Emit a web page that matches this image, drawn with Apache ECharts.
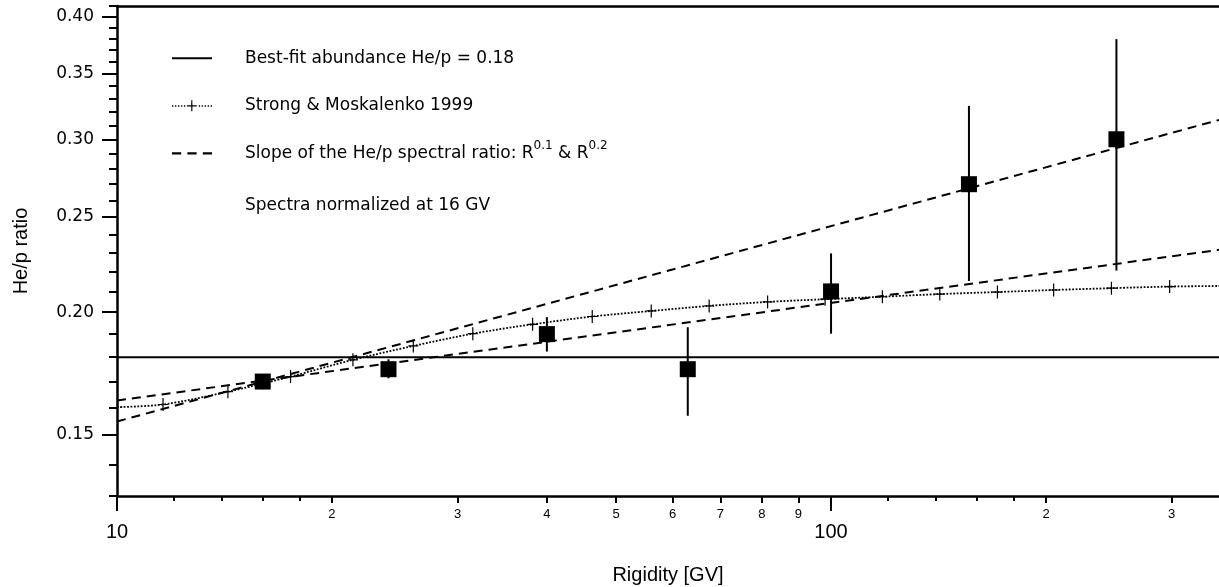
<!DOCTYPE html>
<html>
<head>
<meta charset="utf-8">
<script src="https://cdn.jsdelivr.net/npm/echarts@6/dist/echarts.min.js"></script>
<style>
html,body{margin:0;padding:0;background:#fff;}
#chart{width:1219px;height:587px;}
</style>
</head>
<body>
<div id="chart"></div>
<script>
// ---------- data ----------
const xTitle = 'Rigidity [GV]';
const yTitle = 'He/p ratio';
const xMin = 10, xMax = 349.4;
const yMin = 0.13, yMax = 0.41;

// tick values
const xMajorTicks = [10, 100];
const xMinorLabeled = [20, 30, 40, 50, 60, 70, 80, 90, 200, 300];
const xMinorTicks = [12, 14, 16, 18, 120, 140, 160, 180];
const yMajorTicks = [0.15, 0.20, 0.25, 0.30, 0.35, 0.40];
const yMinorTicks = [0.13, 0.14, 0.16, 0.17, 0.18, 0.19, 0.21, 0.22, 0.23, 0.24, 0.26, 0.27, 0.28, 0.29, 0.31, 0.32, 0.33, 0.34, 0.36, 0.37, 0.38, 0.39, 0.41];

// measured He/p ratio points with error bars
const dataR     = [16, 24, 40, 63, 100, 156, 251];
const dataRatio = [0.170, 0.175, 0.190, 0.175, 0.210, 0.270, 0.300];
const errLow    = [0.1670, 0.1713, 0.1824, 0.1569, 0.1902, 0.2152, 0.2205];
const errHigh   = [0.1730, 0.1791, 0.1977, 0.1931, 0.2296, 0.3244, 0.3794];

// best-fit abundance
const bestFitName = 'Best-fit abundance He/p = 0.18';
const bestFit = 0.18;

// Strong & Moskalenko 1999 model (crosses) and curve ends
const smName = 'Strong & Moskalenko 1999';
const smR     = [11.6, 14.3, 17.5, 21.4, 26.0, 31.5, 38.2, 46.3, 56.0, 67.5, 81.5, 98.1, 118, 142, 171, 205, 247, 298];
const smRatio = [0.1611, 0.1660, 0.1720, 0.1789, 0.1848, 0.1902, 0.1944, 0.1980, 0.2006, 0.2030, 0.2049, 0.2062, 0.2074, 0.2087, 0.2097, 0.2107, 0.2116, 0.2124];
const smEndR     = [10, 349.4];
const smEndRatio = [0.1601, 0.2127];

// slope lines R^0.1 and R^0.2 (end values)
const slopeName = 'Slope of the He/p spectral ratio: R^0.1 & R^0.2';
const slopeR      = [10, 349.4];
const slope01Ratio = [0.1626, 0.2315];
const slope02Ratio = [0.1548, 0.3139];

const noteText = 'Spectra normalized at 16 GV';

// ---------- chart ----------
const FONT = '"Liberation Sans", Arial, Helvetica, sans-serif';
const WIDE = '"DejaVu Sans", "Liberation Sans", Arial, sans-serif';
const BLACK = '#000';

function dotCrossIcon() {
  let p = '';
  for (let x = 0; x <= 39; x += 3) {
    if (x >= 15 && x <= 24) continue;
    p += 'M' + x + ',5h1.4v1.4h-1.4z';
  }
  p += 'M19.4,0h1.2v11h-1.2zM15,5h10v1.2h-10z';
  return 'path://' + p;
}
const solidIcon = 'path://M0,0H39V2H0Z';
const dashIcon = 'path://M0,0H9V2H0ZM15,0H24V2H15ZM30,0H39V2H30Z';
const crossSymbol = 'path://M4.4,0H5.6V13H4.4ZM0,5.9H10V7.1H0Z';

const smData = [{value: [smEndR[0], smEndRatio[0]], symbol: 'none'}]
  .concat(smR.map((r, i) => [r, smRatio[i]]))
  .concat([{value: [smEndR[1], smEndRatio[1]], symbol: 'none'}]);

const errRows = dataR.map((r, i) => [r, errLow[i], errHigh[i]]);
const points = dataR.map((r, i) => [r, dataRatio[i]]);

const baseX = {
  type: 'log', logBase: 10, min: xMin, max: xMax, gridIndex: 0,
  splitLine: {show: false},
  axisLine: {show: false, onZero: false},
  axisTick: {show: false},
  axisLabel: {show: false}
};
const baseY = {
  type: 'log', logBase: 10, min: yMin, max: yMax, gridIndex: 0, position: 'left',
  splitLine: {show: false},
  axisLine: {show: false, onZero: false},
  axisTick: {show: false},
  axisLabel: {show: false}
};

function leadDigit(v) {
  const e = Math.floor(Math.log10(v) + 1e-9);
  return String(Math.round(v / Math.pow(10, e)));
}

const option = {
  animation: false,
  backgroundColor: '#fff',
  grid: {left: 117, right: 0, top: 6, bottom: 91, containLabel: false, outerBoundsMode: 'none'},
  legend: {
    show: true, orient: 'vertical', left: 172, top: 44.2, padding: 0,
    itemWidth: 40, itemHeight: 28, itemGap: 19.6, selectedMode: false,
    data: [
      {name: bestFitName, icon: solidIcon},
      {name: smName, icon: dotCrossIcon()},
      {name: slopeName, icon: dashIcon}
    ],
    formatter: function (n) {
      return n === slopeName ? 'Slope of the He/p spectral ratio: R{sup|0.1} & R{sup|0.2}' : n;
    },
    textStyle: {
      fontFamily: WIDE, fontSize: 17, color: BLACK, lineHeight: 28, padding: [0, 0, 0, 28],
      rich: {sup: {fontFamily: WIDE, fontSize: 12, lineHeight: 28, verticalAlign: 'top', color: BLACK}}
    }
  },
  graphic: [{
    type: 'text', x: 245, y: 205.8, silent: true,
    style: {text: noteText, font: '17px ' + WIDE, fill: BLACK, align: 'left', verticalAlign: 'middle'}
  }],
  xAxis: [
    Object.assign({}, baseX, {
      position: 'bottom',
      axisLine: {show: true, onZero: false, lineStyle: {color: BLACK, width: 2.5}},
      axisTick: {show: true, length: 15, customValues: xMajorTicks, lineStyle: {color: BLACK, width: 2}},
      axisLabel: {show: true, customValues: xMajorTicks, margin: 26, fontSize: 20, fontFamily: FONT, color: BLACK,
        formatter: v => String(Math.round(v))},
      name: xTitle, nameLocation: 'middle', nameGap: 69,
      nameTextStyle: {fontFamily: FONT, fontSize: 20, color: BLACK}
    }),
    Object.assign({}, baseX, {
      position: 'bottom',
      axisTick: {show: true, length: 7, customValues: xMinorLabeled, lineStyle: {color: BLACK, width: 2}},
      axisLabel: {show: true, customValues: xMinorLabeled, margin: 12, fontSize: 13, fontFamily: FONT, color: BLACK,
        formatter: leadDigit}
    }),
    Object.assign({}, baseX, {
      position: 'bottom',
      axisTick: {show: true, length: 5, customValues: xMinorTicks, lineStyle: {color: BLACK, width: 2}}
    }),
    Object.assign({}, baseX, {
      position: 'top',
      axisLine: {show: true, onZero: false, lineStyle: {color: BLACK, width: 2.5}}
    })
  ],
  yAxis: [
    Object.assign({}, baseY, {
      axisLine: {show: true, onZero: false, lineStyle: {color: BLACK, width: 2.5}},
      axisTick: {show: true, length: 15, customValues: yMajorTicks, lineStyle: {color: BLACK, width: 2}},
      axisLabel: {show: true, customValues: yMajorTicks, margin: 23, fontSize: 17, fontFamily: WIDE, color: BLACK,
        formatter: v => v.toFixed(2)},
      name: yTitle, nameLocation: 'middle', nameRotate: 90, nameGap: 86,
      nameTextStyle: {fontFamily: FONT, fontSize: 20, color: BLACK}
    }),
    Object.assign({}, baseY, {
      axisTick: {show: true, length: 8, customValues: yMinorTicks, lineStyle: {color: BLACK, width: 2}}
    })
  ],
  series: [
    {
      name: bestFitName, type: 'line', xAxisIndex: 0, yAxisIndex: 0, symbol: 'none', color: BLACK,
      data: [[xMin, bestFit], [xMax, bestFit]],
      lineStyle: {color: BLACK, width: 2, type: 'solid'}, z: 2
    },
    {
      name: smName, type: 'line', xAxisIndex: 0, yAxisIndex: 0, smooth: 0.3, color: BLACK,
      symbol: crossSymbol, symbolSize: [10, 13], symbolKeepAspect: false,
      itemStyle: {color: BLACK, opacity: 1},
      lineStyle: {color: BLACK, width: 1.8, type: [1.8, 1.6]},
      data: smData, z: 3
    },
    {
      name: slopeName, type: 'line', xAxisIndex: 0, yAxisIndex: 0, symbol: 'none', color: BLACK,
      data: slopeR.map((r, i) => [r, slope01Ratio[i]]),
      lineStyle: {color: BLACK, width: 2, type: [9, 6]}, z: 2
    },
    {
      name: slopeName, type: 'line', xAxisIndex: 0, yAxisIndex: 0, symbol: 'none', color: BLACK,
      data: slopeR.map((r, i) => [r, slope02Ratio[i]]),
      lineStyle: {color: BLACK, width: 2, type: [9, 6]}, z: 2
    },
    {
      name: 'error bars', type: 'custom', xAxisIndex: 0, yAxisIndex: 0,
      data: errRows, encode: {x: 0, y: [1, 2]}, z: 4,
      renderItem: function (params, api) {
        const x = api.value(0);
        const p1 = api.coord([x, api.value(1)]);
        const p2 = api.coord([x, api.value(2)]);
        return {type: 'line', shape: {x1: p1[0], y1: p1[1], x2: p2[0], y2: p2[1]},
          style: {stroke: BLACK, lineWidth: 2}};
      }
    },
    {
      name: 'measurements', type: 'scatter', xAxisIndex: 0, yAxisIndex: 0,
      symbol: 'rect', symbolSize: 16, itemStyle: {color: BLACK, opacity: 1},
      data: points, z: 5
    }
  ]
};

const chart = echarts.init(document.getElementById('chart'), null, {renderer: 'canvas'});
chart.setOption(option);
</script>
</body>
</html>
